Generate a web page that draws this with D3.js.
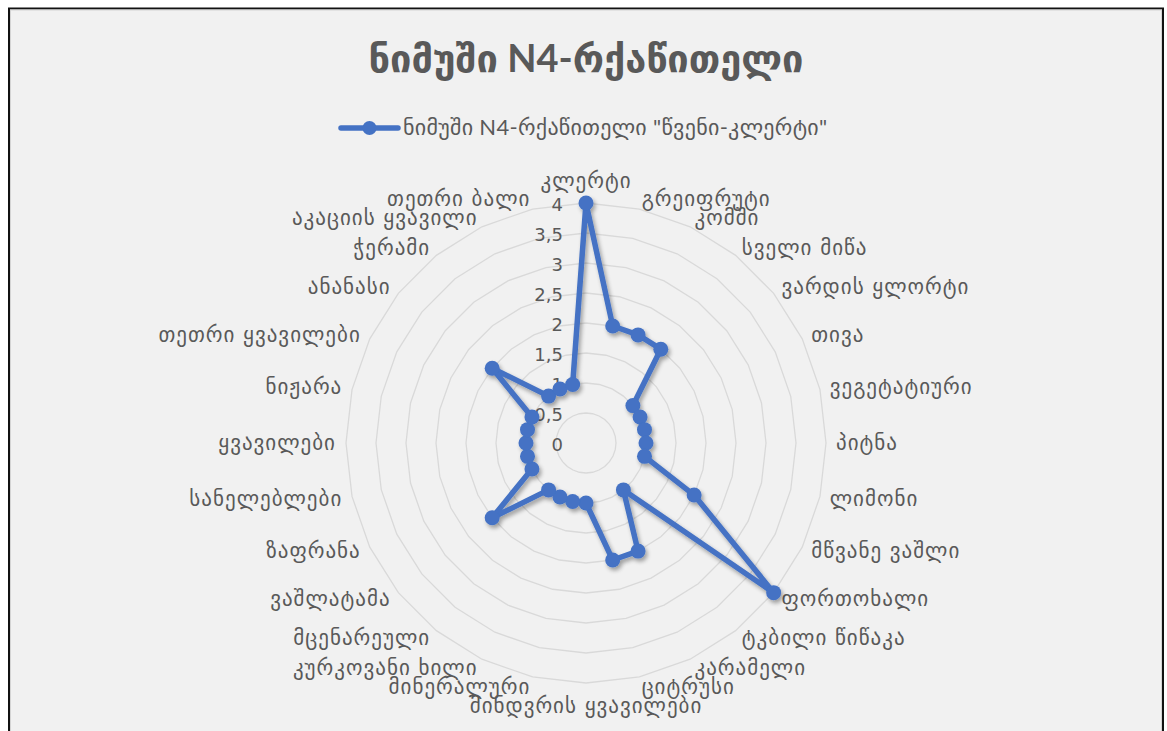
<!DOCTYPE html>
<html>
<head>
<meta charset="utf-8">
<script src="https://cdn.jsdelivr.net/npm/d3@7"></script>
<style>
  html, body { margin: 0; padding: 0; background: #ffffff; }
  svg { display: block; }
</style>
</head>
<body>
<svg id="chart" width="1167" height="731"></svg>
<script>
// Aroma descriptors, clockwise from the top
const categories = [
  "კლერტი", "გრეიფრუტი", "კომში", "სველი მიწა", "ვარდის ყლორტი", "თივა",
  "ვეგეტატიური", "პიტნა", "ლიმონი", "მწვანე ვაშლი", "ფორთოხალი", "ტკბილი წიწაკა",
  "კარამელი", "ციტრუსი", "მინდვრის ყვავილები", "მინერალური", "კურკოვანი ხილი",
  "მცენარეული", "ვაშლატამა", "ზაფრანა", "სანელებლები", "ყვავილები", "ნიჟარა",
  "თეთრი ყვავილები", "ანანასი", "ჭერამი", "აკაციის ყვავილი", "თეთრი ბალი"
];
// Intensity scores for each descriptor
const values = [
  4, 2, 2, 2, 1, 1,
  1, 1, 1, 2, 4, 1,
  2, 2, 1, 1, 1,
  1, 2, 1, 1, 1, 1,
  1, 2, 1, 1, 1
];
const seriesName = "ნიმუში N4-რქაწითელი \"წვენი-კლერტი\"";
const chartTitle = "ნიმუში N4-რქაწითელი";
const tickValues = [0, 0.5, 1, 1.5, 2, 2.5, 3, 3.5, 4];
const tickLabels = ["0", "0,5", "1", "1,5", "2", "2,5", "3", "3,5", "4"];

const svg = d3.select("#chart");
const cx = 586, cy = 443, R = 240;
const lineColor = "#4472c4";
const textColor = "#595959";
const geoFont = "'DejaVu Sans', sans-serif";

// frame
svg.append("rect").attr("x", 9).attr("y", 8.5).attr("width", 1154).attr("height", 740)
  .attr("fill", "#f1f1f1").attr("stroke", "#111").attr("stroke-width", 2);
svg.append("rect").attr("x", 10.5).attr("y", 10).attr("width", 1151).attr("height", 740)
  .attr("fill", "none").attr("stroke", "#d4d4d4").attr("stroke-width", 1);

const defs = svg.append("defs");
const shadow = defs.append("filter").attr("id", "shadow")
  .attr("x", "-20%").attr("y", "-20%").attr("width", "140%").attr("height", "140%");
shadow.append("feGaussianBlur").attr("in", "SourceAlpha").attr("stdDeviation", 2).attr("result", "b");
shadow.append("feOffset").attr("in", "b").attr("dx", 1.5).attr("dy", 2.5).attr("result", "o");
shadow.append("feComponentTransfer").attr("in", "o").attr("result", "s")
  .append("feFuncA").attr("type", "linear").attr("slope", 0.35);
const merge = shadow.append("feMerge");
merge.append("feMergeNode").attr("in", "s");
merge.append("feMergeNode").attr("in", "SourceGraphic");

const n = categories.length;
const angle = d3.scaleLinear().domain([0, n]).range([0, 2 * Math.PI]);
const r = d3.scaleLinear().domain([0, 4]).range([0, R]);

const g = svg.append("g").attr("transform", `translate(${cx},${cy})`);

// gridline polygons
const ringLine = d3.lineRadial()
  .angle((d, i) => angle(i))
  .radius(d => r(d))
  .curve(d3.curveLinearClosed);
g.selectAll("path.ring")
  .data(tickValues.filter(v => v > 0))
  .join("path")
  .attr("class", "ring")
  .attr("d", v => ringLine(categories.map(() => v)))
  .attr("fill", "none")
  .attr("stroke", "#d9d9d9")
  .attr("stroke-width", 1.3);

// value axis labels
g.selectAll("text.tick")
  .data(tickValues)
  .join("text")
  .attr("class", "tick")
  .attr("x", -23)
  .attr("y", v => -r(v) + 3)
  .attr("text-anchor", "end")
  .attr("dominant-baseline", "middle")
  .attr("font-family", geoFont)
  .attr("font-size", 18)
  .attr("fill", textColor)
  .text((v, i) => tickLabels[i]);

// category labels
const labelR = R + 10;
g.selectAll("text.cat")
  .data(categories)
  .join("text")
  .attr("class", "cat")
  .each(function (d, i) {
    const a = angle(i);
    const x = Math.sin(a) * labelR;
    const y = -Math.cos(a) * labelR;
    const s = Math.sin(a);
    let anchor = "middle", base = "middle";
    if (Math.abs(s) < 1e-6) {
      base = Math.cos(a) > 0 ? "auto" : "hanging";
    } else {
      anchor = s > 0 ? "start" : "end";
    }
    d3.select(this)
      .attr("x", x)
      .attr("y", base === "auto" ? y - 5 : (base === "hanging" ? y + 5 : y + 1))
      .attr("text-anchor", anchor)
      .attr("dominant-baseline", base);
  })
  .attr("font-family", geoFont)
  .attr("font-size", 21)
  .attr("letter-spacing", 1)
  .attr("fill", textColor)
  .text(d => d);

// data series
const dataLine = d3.lineRadial()
  .angle((d, i) => angle(i))
  .radius(d => r(d))
  .curve(d3.curveLinearClosed);
const series = g.append("g").attr("filter", "url(#shadow)");
series.append("path")
  .attr("d", dataLine(values))
  .attr("fill", "none")
  .attr("stroke", lineColor)
  .attr("stroke-width", 5.5)
  .attr("stroke-linejoin", "round");
series.selectAll("circle")
  .data(values)
  .join("circle")
  .attr("cx", (d, i) => Math.sin(angle(i)) * r(d))
  .attr("cy", (d, i) => -Math.cos(angle(i)) * r(d))
  .attr("r", 7.5)
  .attr("fill", lineColor);

// title
svg.append("text")
  .attr("x", cx).attr("y", 62)
  .attr("text-anchor", "middle")
  .attr("dominant-baseline", "middle")
  .attr("font-family", "Lato, 'DejaVu Sans', sans-serif")
  .attr("font-weight", "bold")
  .attr("font-size", 38)
  .attr("fill", textColor)
  .text(chartTitle);

// legend
const lg = svg.append("g").attr("transform", "translate(341,128)");
lg.append("line").attr("x1", 0).attr("x2", 57).attr("y1", 0).attr("y2", 0)
  .attr("stroke", lineColor).attr("stroke-width", 5.5).attr("stroke-linecap", "round");
lg.append("circle").attr("cx", 28.5).attr("cy", 0).attr("r", 7).attr("fill", lineColor);
lg.append("text").attr("x", 62).attr("y", 1)
  .attr("dominant-baseline", "middle")
  .attr("font-family", "Lato, 'DejaVu Sans', sans-serif")
  .attr("font-size", 22)
  .attr("letter-spacing", 0.3)
  .attr("fill", textColor)
  .text(seriesName);
</script>
</body>
</html>
